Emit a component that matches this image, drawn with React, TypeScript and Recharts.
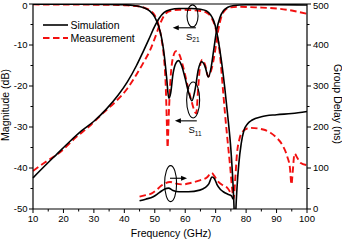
import {
  LineChart,
  Line,
  XAxis,
  YAxis,
  ReferenceLine,
  ReferenceDot,
} from "recharts";

// frequency (GHz), magnitude (dB)
const simS21: [number, number][] = [
  [10, -42.4], [14, -39.4], [18, -36.5], [22, -33.6], [26, -30.9], [30, -28.6],
  [34, -25.7], [38, -22.2], [41, -19], [44, -15], [46, -11.9], [48, -8.7],
  [50, -5.4], [51.5, -3.4], [53, -2.1], [55, -1.4], [58, -1.1], [62, -1.1],
  [65, -1.3], [67, -1.7], [68.3, -2.6], [69.3, -4], [70.2, -6.3], [71, -9.5],
  [72, -14.5], [73, -20.5], [74, -27.5], [75, -35.5], [75.7, -44], [76.1, -51],
  [76.35, -58], [76.6, -51], [77, -45], [77.6, -39], [78.4, -34], [79.3, -30.8],
  [80.5, -29.2], [82, -28.3], [85, -27.5], [90, -27], [95, -26.7], [100, -26.2],
];

const measS21: [number, number][] = [
  [10, -40.7], [14, -38.6], [19, -36.1], [24, -32.6], [29, -29.5], [33, -26.6],
  [37, -23.9], [41, -20.6], [44, -17.2], [46.5, -14], [48.5, -11.2], [50, -8.4],
  [51.5, -5.3], [53, -2.9], [55, -1.7], [58, -1.4], [62, -1.5], [65, -1.7],
  [67, -2.1], [68.5, -3.2], [69.6, -5], [70.6, -8], [71.5, -13], [72.3, -20],
  [73.1, -27], [74, -34], [74.8, -40], [75.4, -45], [75.9, -47.5], [76.4, -43],
  [77, -36.5], [77.8, -33], [79, -31], [81.3, -30.2], [85.6, -30.6], [88, -31.4],
  [90, -32.6], [92, -34.5], [93.5, -37.2], [94.4, -40], [94.9, -44], [95.3, -41],
  [95.9, -36.5], [96.8, -37.5], [97.8, -38.7], [100, -39.3],
];

const simS11: [number, number][] = [
  [10, -0.05], [25, -0.05], [35, -0.1], [40, -0.2], [43, -0.35], [45, -0.6],
  [47, -1.1], [48.5, -1.8], [50, -3.2], [51.3, -5.5], [52.3, -8.5], [53.2, -13],
  [53.9, -18], [54.6, -23], [55.2, -21.8], [56, -17], [56.9, -14.5], [57.8, -13.8],
  [58.8, -15], [60, -18.2], [61.2, -21.8], [62.2, -23.6], [63.2, -21], [64.3, -16],
  [65.4, -14.1], [66.5, -15.2], [67.6, -17.8], [68.5, -15.5], [69.3, -11.5],
  [70.3, -6.5], [71.4, -3.3], [72.6, -1.6], [74, -0.8], [76, -0.35], [80, -0.2],
  [90, -0.15], [100, -0.25],
];

const measS11: [number, number][] = [
  [10, -0.1], [25, -0.15], [35, -0.2], [40, -0.3], [44, -0.5], [46.5, -0.9],
  [48.5, -1.6], [50, -2.8], [51.2, -5], [52.2, -8.5], [53, -13], [53.6, -20],
  [54, -30], [54.2, -35], [54.6, -27], [55.2, -18], [56, -13], [57, -11.5],
  [58, -12.2], [59.2, -15], [60.5, -19], [62, -23.5], [63.6, -26.7], [64.3, -20],
  [64.9, -15], [65.6, -13.6], [66.5, -14.8], [67.6, -17.7], [68.6, -16],
  [69.7, -12], [70.7, -7], [71.8, -3.3], [73.2, -1.4], [75, -0.8], [78, -0.7],
  [84, -0.85], [90, -1.1], [95, -1.6], [100, -2.4],
];

// frequency (GHz), group delay (ns)
const simGD: [number, number][] = [
  [45, 20], [47, 24], [49.5, 30], [51.5, 40], [53.3, 49], [54.5, 51], [56, 45],
  [58, 42], [61, 42], [64.8, 46], [66.5, 52], [67.8, 62], [68.8, 78], [69.6, 74],
  [70.4, 60], [71.5, 48], [72.5, 42], [74, 36], [75.2, 32], [75.7, 24],
];

const measGD: [number, number][] = [
  [45, 30], [47, 34], [49, 38], [50.5, 46], [52, 56], [53.5, 63], [55, 66],
  [57, 62], [59.3, 60], [62, 64], [64.8, 70], [67, 76], [68.7, 88], [69.6, 80],
  [70.9, 66], [72.5, 57], [74, 50], [74.8, 40], [75.2, 32],
];

const freqTicks = [10, 15, 20, 25, 30, 35, 40, 45, 50, 55, 60, 65, 70, 75, 80, 85, 90, 95, 100];
const dbTicks = [-50, -45, -40, -35, -30, -25, -20, -15, -10, -5, 0];
const gdTicks = [0, 50, 100, 150, 200, 250, 300, 350, 400, 450, 500];

const FONT = "'Liberation Sans', Arial, sans-serif";
const RED = "#f21010";
const DASH = "6.5 3.5";

const pts = (arr: [number, number][]) => arr.map(([x, y]) => ({ x, y }));

const XTick = (props: any) => {
  const { x, y, payload } = props;
  const major = payload.value % 10 === 0;
  return (
    <g>
      <line x1={x} y1={y} x2={x} y2={y + (major ? 4 : 2.5)} stroke="#000" strokeWidth={1} />
      {major && (
        <text x={x} y={y + 13} textAnchor="middle" fontSize={9.5} fontFamily={FONT} fill="#000">
          {payload.value}
        </text>
      )}
    </g>
  );
};

// keep the topmost label inside the picture
const labelY = (y: number) => Math.max(y + 3.4, 8.5);

const LeftTick = (props: any) => {
  const { x, y, payload } = props;
  const major = payload.value % 10 === 0;
  return (
    <g>
      <line x1={x} y1={y} x2={x - (major ? 4 : 2.5)} y2={y} stroke="#000" strokeWidth={1} />
      {major && (
        <text x={x - 5.5} y={labelY(y)} textAnchor="end" fontSize={9.5} fontFamily={FONT} fill="#000">
          {payload.value}
        </text>
      )}
    </g>
  );
};

const RightTick = (props: any) => {
  const { x, y, payload } = props;
  const major = payload.value % 100 === 0;
  return (
    <g>
      <line x1={x} y1={y} x2={x + (major ? 4 : 2.5)} y2={y} stroke="#000" strokeWidth={1} />
      {major && (
        <text x={x + 6} y={labelY(y)} textAnchor="start" fontSize={9.5} fontFamily={FONT} fill="#000">
          {payload.value}
        </text>
      )}
    </g>
  );
};

const ellipse = (rx: number, ry: number) => (props: any) =>
  <ellipse cx={props.cx} cy={props.cy} rx={rx} ry={ry} fill="none" stroke="#000" strokeWidth={1.1} />;

// segment drawn from tail to head, arrowhead at the second point
const arrow = (props: any) => {
  const { x1, y1, x2, y2 } = props;
  const dir = x2 > x1 ? 1 : -1;
  return (
    <g>
      <line x1={x1} y1={y1} x2={x2 - dir * 4} y2={y2} stroke="#000" strokeWidth={1.1} />
      <polygon points={`${x2},${y2} ${x2 - dir * 6},${y2 - 2.5} ${x2 - dir * 6},${y2 + 2.5}`} fill="#000" />
    </g>
  );
};

export default function App() {
  return (
    <div style={{ position: "absolute", left: 0, top: 0, width: 342, height: 242, background: "#fff" }}>
      <LineChart width={342} height={242} margin={{ top: 4, right: 0, bottom: 0, left: 0 }}>
        <XAxis
          dataKey="x"
          type="number"
          domain={[10, 100]}
          ticks={freqTicks}
          interval={0}
          height={33}
          tickSize={0}
          tickMargin={0}
          tickLine={false}
          tick={<XTick />}
          axisLine={{ stroke: "#000", strokeWidth: 1.2 }}
        />
        <YAxis
          yAxisId="db"
          type="number"
          domain={[-50, 0]}
          allowDataOverflow
          ticks={dbTicks}
          interval={0}
          width={33}
          tickSize={0}
          tickMargin={0}
          tickLine={false}
          tick={<LeftTick />}
          axisLine={{ stroke: "#000", strokeWidth: 1.2 }}
        />
        <YAxis
          yAxisId="gd"
          orientation="right"
          type="number"
          domain={[0, 500]}
          allowDataOverflow
          ticks={gdTicks}
          interval={0}
          width={35}
          tickSize={0}
          tickMargin={0}
          tickLine={false}
          tick={<RightTick />}
          axisLine={{ stroke: "#000", strokeWidth: 1.2 }}
        />
        <ReferenceLine yAxisId="db" y={0} stroke="#000" strokeWidth={1.2} />

        <Line data={pts(measS11)} yAxisId="db" dataKey="y" type="monotone" stroke={RED} strokeWidth={1.9} strokeDasharray={DASH} dot={false} isAnimationActive={false} />
        <Line data={pts(measS21)} yAxisId="db" dataKey="y" type="monotone" stroke={RED} strokeWidth={1.9} strokeDasharray={DASH} dot={false} isAnimationActive={false} />
        <Line data={pts(measGD)} yAxisId="gd" dataKey="y" type="monotone" stroke={RED} strokeWidth={1.9} strokeDasharray={DASH} dot={false} isAnimationActive={false} />
        <Line data={pts(simS11)} yAxisId="db" dataKey="y" type="monotone" stroke="#000" strokeWidth={1.6} dot={false} isAnimationActive={false} />
        <Line data={pts(simS21)} yAxisId="db" dataKey="y" type="monotone" stroke="#000" strokeWidth={1.6} dot={false} isAnimationActive={false} />
        <Line data={pts(simGD)} yAxisId="gd" dataKey="y" type="monotone" stroke="#000" strokeWidth={1.6} dot={false} isAnimationActive={false} />

        {/* annotations */}
        <ReferenceDot yAxisId="db" x={62.4} y={-2.9} shape={ellipse(5.5, 11)} />
        <ReferenceLine yAxisId="db" segment={[{ x: 63.5, y: -5.8 }, { x: 55.9, y: -5.8 }]} shape={arrow} />
        <ReferenceDot yAxisId="db" x={62.6} y={-23.4} shape={ellipse(6.5, 18)} />
        <ReferenceLine yAxisId="db" segment={[{ x: 63.8, y: -28.5 }, { x: 56.6, y: -28.5 }]} shape={arrow} />
        <ReferenceDot yAxisId="gd" x={55.2} y={62} shape={ellipse(6, 18)} />
        <ReferenceLine yAxisId="gd" segment={[{ x: 55, y: 75 }, { x: 60.6, y: 75 }]} shape={arrow} />
      </LineChart>

      <svg
        width={342}
        height={242}
        style={{ position: "absolute", left: 0, top: 0, pointerEvents: "none" }}
        fontFamily={FONT}
      >
        <line x1={43} y1={25} x2={68} y2={25} stroke="#000" strokeWidth={1.6} />
        <text x={70.5} y={29} fontSize={10.5}>Simulation</text>
        <line x1={43} y1={38} x2={68} y2={38} stroke={RED} strokeWidth={1.9} strokeDasharray={DASH} />
        <text x={70.5} y={42} fontSize={10.5}>Measurement</text>

        <text x={186} y={39.5} fontSize={9.5}>
          S<tspan fontSize={6.5} dy={2.5}>21</tspan>
        </text>
        <text x={188.5} y={133} fontSize={9.5}>
          S<tspan fontSize={6.5} dy={2.5}>11</tspan>
        </text>

        <text x={171} y={237} textAnchor="middle" fontSize={10.5}>Frequency (GHz)</text>
        <text transform="translate(8.5,105) rotate(-90)" textAnchor="middle" fontSize={10.5}>Magnitude (dB)</text>
        <text transform="translate(333.5,104) rotate(90)" textAnchor="middle" fontSize={10.5}>Group Delay (ns)</text>
      </svg>
    </div>
  );
}
